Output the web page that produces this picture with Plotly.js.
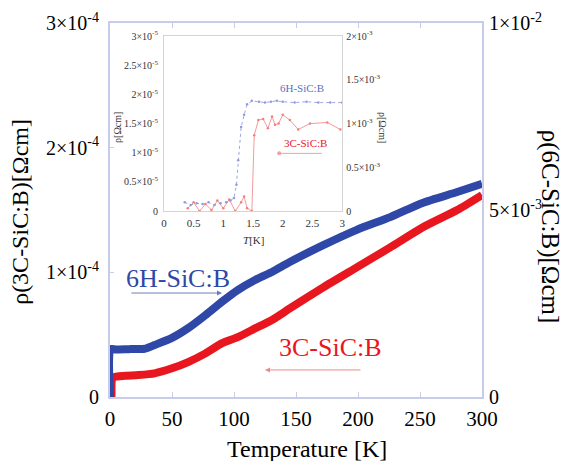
<!DOCTYPE html>
<html>
<head>
<meta charset="utf-8">
<script src="https://cdn.plot.ly/plotly-3.0.1.min.js"></script>
<style>html,body{margin:0;padding:0;background:#fff;}#chart{width:566px;height:461px;}</style>
</head>
<body>
<div id="chart"></div>
<script>
// Main plot: 6H-SiC:B (right axis, Ωcm) and 3C-SiC:B (left axis, Ωcm) vs temperature [K]
const T6H = [0, 0.3, 5, 15, 28, 36, 50, 63, 77, 90, 103, 117, 131, 145, 172, 199, 226, 252, 280, 300];
const rho6H = [0, 1.28e-3, 1.27e-3, 1.28e-3, 1.29e-3, 1.39e-3, 1.58e-3, 1.84e-3, 2.19e-3, 2.54e-3, 2.86e-3, 3.13e-3, 3.35e-3, 3.61e-3, 4.06e-3, 4.47e-3, 4.81e-3, 5.19e-3, 5.48e-3, 5.70e-3];
const T3C = [1.2, 1.6, 3, 12, 23, 36, 50, 63, 77, 90, 103, 117, 131, 145, 172, 199, 226, 252, 280, 300];
const rho3C = [0, 0.14e-4, 0.16e-4, 0.17e-4, 0.176e-4, 0.19e-4, 0.23e-4, 0.28e-4, 0.35e-4, 0.43e-4, 0.48e-4, 0.55e-4, 0.62e-4, 0.71e-4, 0.88e-4, 1.04e-4, 1.20e-4, 1.36e-4, 1.50e-4, 1.62e-4];

// Inset: low temperature region (T [K])
const Tin6H = [0.35, 0.45, 0.55, 0.65, 0.75, 0.85, 0.95, 1.05, 1.12, 1.18, 1.22, 1.25, 1.30, 1.35, 1.40, 1.48, 1.6, 1.7, 1.8, 1.9, 2.0, 2.2, 2.4, 2.6, 2.8, 3.0];
const rhoIn6H = [0.10e-3, 0.07e-3, 0.09e-3, 0.08e-3, 0.10e-3, 0.07e-3, 0.09e-3, 0.10e-3, 0.12e-3, 0.15e-3, 0.30e-3, 0.58e-3, 0.96e-3, 1.10e-3, 1.22e-3, 1.26e-3, 1.25e-3, 1.24e-3, 1.25e-3, 1.26e-3, 1.25e-3, 1.24e-3, 1.25e-3, 1.24e-3, 1.24e-3, 1.24e-3];
const Tin3C = [0.4, 0.5, 0.6, 0.7, 0.8, 0.9, 1.0, 1.1, 1.2, 1.3, 1.35, 1.4, 1.48, 1.52, 1.59, 1.67, 1.75, 1.82, 1.87, 1.93, 2.0, 2.12, 2.26, 2.46, 2.75, 2.97];
const rhoIn3C = [0.05e-5, 0.15e-5, 0.0, 0.12e-5, 0.02e-5, 0.18e-5, 0.05e-5, 0.2e-5, 0.0, 0.15e-5, 0.25e-5, 0.05e-5, 0.0, 1.30e-5, 1.56e-5, 1.58e-5, 1.42e-5, 1.62e-5, 1.48e-5, 1.50e-5, 1.65e-5, 1.56e-5, 1.40e-5, 1.50e-5, 1.52e-5, 1.40e-5];

// Tick labels
const xTicks = [0, 50, 100, 150, 200, 250, 300];
const yLeftVals = [0, 1e-4, 2e-4, 3e-4];
const yLeftText = ['0', '1×10<sup>-4</sup>', '2×10<sup>-4</sup>', '3×10<sup>-4</sup>'];
const yRightVals = [0, 5e-3, 1e-2];
const yRightText = ['0', '5×10<sup>-3</sup>', '1×10<sup>-2</sup>'];
const inXTicks = [0, 0.5, 1, 1.5, 2, 2.5, 3];
const inLeftVals = [0, 0.5e-5, 1e-5, 1.5e-5, 2e-5, 2.5e-5, 3e-5];
const inLeftText = ['0', '0.5×10<sup>-5</sup>', '1×10<sup>-5</sup>', '1.5×10<sup>-5</sup>', '2×10<sup>-5</sup>', '2.5×10<sup>-5</sup>', '3×10<sup>-5</sup>'];
const inRightVals = [0, 0.5e-3, 1e-3, 1.5e-3, 2e-3];
const inRightText = ['0', '0.5×10<sup>-3</sup>', '1×10<sup>-3</sup>', '1.5×10<sup>-3</sup>', '2×10<sup>-3</sup>'];

const BLUE = '#2f47a6';
const RED = '#e8161e';
const FRAME = '#c9cce8';
const SERIF = '"Liberation Serif", "Times New Roman", Times, serif';

const traces = [
  {x: T3C, y: rho3C, xaxis: 'x', yaxis: 'y', mode: 'lines', line: {color: RED, width: 8, shape: 'spline', smoothing: 0.6}, hoverinfo: 'skip'},
  {x: T6H, y: rho6H, xaxis: 'x', yaxis: 'y2', mode: 'lines', line: {color: BLUE, width: 8, shape: 'spline', smoothing: 0.6}, hoverinfo: 'skip'},
  {x: Tin6H, y: rhoIn6H, xaxis: 'x2', yaxis: 'y4', mode: 'lines+markers', line: {color: '#9aa6e0', width: 1, dash: 'dot'}, marker: {color: '#8e9bdc', size: 2.5}, hoverinfo: 'skip'},
  {x: Tin3C, y: rhoIn3C, xaxis: 'x2', yaxis: 'y3', mode: 'lines+markers', line: {color: '#f39a9a', width: 1}, marker: {color: '#f08080', size: 2.5}, hoverinfo: 'skip'}
];

const layout = {
  width: 566, height: 461,
  margin: {l: 110, r: 84, t: 23, b: 64},
  paper_bgcolor: '#ffffff', plot_bgcolor: '#ffffff',
  showlegend: false,
  font: {family: SERIF, color: '#000', size: 12},
  xaxis: {
    domain: [0, 1], range: [0, 300], tickvals: xTicks, ticks: 'inside', ticklen: 5,
    tickcolor: FRAME, showline: true, linecolor: FRAME, linewidth: 2, mirror: 'ticks',
    showgrid: false, zeroline: false, tickfont: {size: 21, family: SERIF, color: '#000'}, ticklabelstandoff: 2
  },
  yaxis: {
    domain: [0, 1], range: [0, 3e-4], tickvals: yLeftVals, ticktext: yLeftText, ticks: 'inside', ticklen: 4,
    tickcolor: FRAME, showline: true, linecolor: FRAME, linewidth: 2, mirror: true,
    showgrid: false, zeroline: false, tickfont: {size: 20, family: SERIF, color: '#000'}, ticklabelstandoff: 5
  },
  yaxis2: {
    overlaying: 'y', side: 'right', range: [0, 1e-2], tickvals: yRightVals, ticktext: yRightText,
    ticks: '', showline: false, showgrid: false, zeroline: false,
    tickfont: {size: 20, family: SERIF, color: '#000'}, ticklabelstandoff: 6
  },
  xaxis2: {
    domain: [0.145, 0.624], anchor: 'y3', range: [0, 3], tickvals: inXTicks, ticks: '',
    showline: true, linecolor: '#d4d4d4', linewidth: 1, mirror: true, showgrid: false, zeroline: false,
    tickfont: {size: 11, family: SERIF, color: '#333'}, ticklabelstandoff: 2
  },
  yaxis3: {
    domain: [0.497, 0.965], anchor: 'x2', range: [0, 3e-5], tickvals: inLeftVals, ticktext: inLeftText,
    ticks: '', showline: true, linecolor: '#d4d4d4', linewidth: 1, mirror: true, showgrid: false, zeroline: false,
    tickfont: {size: 10, family: SERIF, color: '#333'}, ticklabelstandoff: 3
  },
  yaxis4: {
    overlaying: 'y3', side: 'right', anchor: 'x2', range: [0, 2e-3], tickvals: inRightVals, ticktext: inRightText,
    ticks: '', showline: false, showgrid: false, zeroline: false,
    tickfont: {size: 10, family: SERIF, color: '#333'}, ticklabelstandoff: 3
  },
  annotations: [
    {xref: 'paper', yref: 'paper', x: 0.53, y: -0.138, text: 'Temperature [K]', showarrow: false,
     font: {size: 24, family: SERIF, color: '#000'}, xanchor: 'center', yanchor: 'middle'},
    {xref: 'paper', yref: 'paper', x: -0.242, y: 0.495, text: 'ρ(3C-SiC:B)[Ωcm]', showarrow: false, textangle: -90,
     font: {size: 24, family: SERIF, color: '#000'}, xanchor: 'center', yanchor: 'middle'},
    {xref: 'paper', yref: 'paper', x: 1.183, y: 0.455, text: 'ρ(6C-SiC:B)[Ωcm]', showarrow: false, textangle: 90,
     font: {size: 25, family: SERIF, color: '#000'}, xanchor: 'center', yanchor: 'middle'},
    // main labels and arrows
    {xref: 'x', yref: 'y', x: 54.5, y: 0.954e-4, text: '6H-SiC:B', showarrow: false,
     font: {size: 26, family: SERIF, color: BLUE}, xanchor: 'center', yanchor: 'middle'},
    {xref: 'x', yref: 'y', x: 90.3, y: 0.834e-4, ax: -92, ay: 0, text: '', showarrow: true,
     arrowhead: 2, arrowsize: 1, arrowwidth: 1, arrowcolor: '#6a7cc0'},
    {xref: 'x', yref: 'y', x: 178, y: 0.40e-4, text: '3C-SiC:B', showarrow: false, bgcolor: '#ffffff',
     font: {size: 26, family: SERIF, color: RED}, xanchor: 'center', yanchor: 'middle'},
    {xref: 'x', yref: 'y', x: 125, y: 0.217e-4, ax: 97, ay: 0, text: '', showarrow: true,
     arrowhead: 2, arrowsize: 1, arrowwidth: 1, arrowcolor: '#f08a8a'},
    // inset labels
    {xref: 'x2', yref: 'y3', x: 2.33, y: 2.11e-5, text: '6H-SiC:B', showarrow: false,
     font: {size: 11, family: SERIF, color: '#5a6fc8'}, xanchor: 'center', yanchor: 'middle'},
    {xref: 'x2', yref: 'y3', x: 2.38, y: 1.17e-5, text: '3C-SiC:B', showarrow: false,
     font: {size: 11, family: SERIF, color: RED}, xanchor: 'center', yanchor: 'middle'},
    {xref: 'x2', yref: 'y3', x: 1.94, y: 0.99e-5, ax: 44, ay: 0, text: '', showarrow: true,
     arrowhead: 6, arrowsize: 1, arrowwidth: 1, arrowcolor: '#f3a0a0'},
    {xref: 'paper', yref: 'paper', x: 0.385, y: 0.42, text: '<i>T</i>[K]', showarrow: false,
     font: {size: 11, family: SERIF, color: '#333'}, xanchor: 'center', yanchor: 'middle'},
    {xref: 'paper', yref: 'paper', x: 0.022, y: 0.72, text: 'ρ[Ωcm]', showarrow: false, textangle: -90,
     font: {size: 10, family: SERIF, color: '#333'}, xanchor: 'center', yanchor: 'middle'},
    {xref: 'paper', yref: 'paper', x: 0.733, y: 0.72, text: 'ρ[Ωcm]', showarrow: false, textangle: 90,
     font: {size: 10, family: SERIF, color: '#333'}, xanchor: 'center', yanchor: 'middle'}
  ]
};

Plotly.newPlot('chart', traces, layout, {staticPlot: true, displayModeBar: false});
</script>
</body>
</html>
